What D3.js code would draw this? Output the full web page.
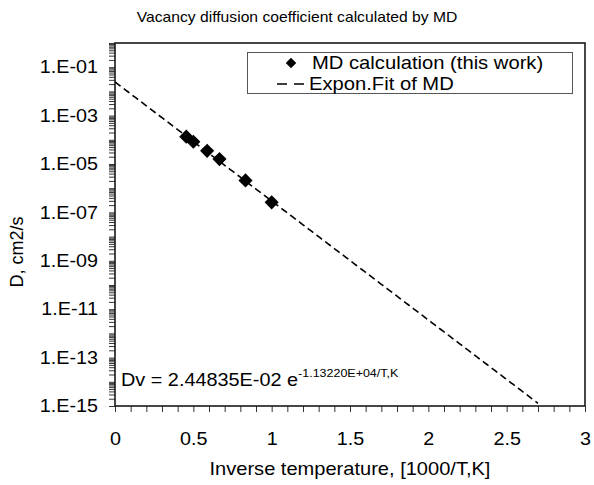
<!DOCTYPE html>
<html>
<head>
<meta charset="utf-8">
<script src="https://cdn.jsdelivr.net/npm/d3@7"></script>
<style>
  html, body { margin: 0; padding: 0; background: #fff; }
  svg { display: block; font-family: "Liberation Sans", Arial, sans-serif; }
</style>
</head>
<body>
<svg id="chart" width="594" height="485"></svg>
<script>
// Inverse temperature 1000/T and MD vacancy diffusion coefficients (cm2/s)
const inverseT = [0.455, 0.5, 0.588, 0.667, 0.833, 1.0];
const diffusionD = [1.35e-4, 8.3e-5, 3.5e-5, 1.6e-5, 2.1e-6, 2.6e-7];

// Exponential fit D = A * exp(-B / T), plotted against x = 1000/T
const fitA = 2.44835e-2;
const fitB = 1.13220e4;
const fitRange = [0, 2.7];

const xTicks = [0, 0.5, 1, 1.5, 2, 2.5, 3];
const yTickLabels = ["1.E-01", "1.E-03", "1.E-05", "1.E-07", "1.E-09", "1.E-11", "1.E-13", "1.E-15"];
const yTickValues = [1e-1, 1e-3, 1e-5, 1e-7, 1e-9, 1e-11, 1e-13, 1e-15];

const titleText = "Vacancy diffusion coefficient calculated by MD";
const xTitle = "Inverse temperature, [1000/T,K]";
const yTitle = "D, cm2/s";
const legendLabels = ["MD calculation (this work)", "Expon.Fit of MD"];
const equationMain = "Dv = 2.44835E-02 e";
const equationExp = "-1.13220E+04/T,K";

const svg = d3.select("#chart");
const plot = { left: 115, right: 585, top: 43, bottom: 406 };

const x = d3.scaleLinear().domain([0, 3]).range([plot.left, plot.right]);
const y = d3.scaleLog().domain([1e-15, 1]).range([plot.bottom, plot.top]);

// Text in this chart is set slightly wide: place at (px, py) and widen by sx
function widen(sel, px, py, sx) {
  sel.attr("x", px / sx).attr("y", py).attr("transform", `scale(${sx},1)`);
  return sel;
}

// Title
widen(svg.append("text"), 297, 22, 1.12)
  .attr("text-anchor", "middle")
  .attr("font-size", 14)
  .text(titleText);

// Clip region for the fit line
svg.append("clipPath").attr("id", "plotClip")
  .append("rect")
  .attr("x", plot.left).attr("y", plot.top)
  .attr("width", plot.right - plot.left).attr("height", plot.bottom - plot.top);

// X axis: major ticks every 0.5, minor every 0.1
const xMinor = d3.range(0, 3.0001, 0.1);
const xAxis = d3.axisBottom(x).tickValues(xMinor).tickSize(6)
  .tickFormat(d => {
    const r = Math.round(d * 10) / 10;
    return xTicks.some(t => Math.abs(t - r) < 1e-9) ? d3.format("")(r) : "";
  });
const gx = svg.append("g")
  .attr("transform", `translate(0,${plot.bottom})`)
  .call(xAxis);
gx.select(".domain").remove();
gx.selectAll(".tick line").attr("stroke", "#333").attr("stroke-width", 1);
gx.selectAll(".tick text")
  .attr("font-size", 17.5).attr("fill", "#000")
  .attr("font-family", "Liberation Sans, Arial, sans-serif")
  .attr("dy", "0.71em")
  .each(function () { widen(d3.select(this), 0, 27, 1.13); });

// Y axis: tick at every log minor step, labels every two decades
const yMinor = [];
for (let e = -15; e < 0; e++) {
  for (let k = 1; k < 10; k++) yMinor.push(k * Math.pow(10, e));
}
yMinor.push(1);
const yAxis = d3.axisLeft(y).tickValues(yMinor).tickSize(6).tickFormat(d => {
  const i = yTickValues.findIndex(v => Math.abs(Math.log10(v) - Math.log10(d)) < 1e-6);
  return i >= 0 ? yTickLabels[i] : "";
});
const gy = svg.append("g")
  .attr("transform", `translate(${plot.left},0)`)
  .call(yAxis);
gy.select(".domain").remove();
gy.selectAll(".tick line").attr("stroke", "#333").attr("stroke-width", 1);
gy.selectAll(".tick text")
  .attr("font-size", 17.5).attr("fill", "#000")
  .attr("font-family", "Liberation Sans, Arial, sans-serif")
  .each(function () { widen(d3.select(this), -17, 0, 1.13); });

// Plot frame
svg.append("rect")
  .attr("x", plot.left).attr("y", plot.top)
  .attr("width", plot.right - plot.left).attr("height", plot.bottom - plot.top)
  .attr("fill", "none").attr("stroke", "#1a1a1a").attr("stroke-width", 1.6);

// Fit line
const fitX = d3.range(fitRange[0], fitRange[1] + 1e-9, 0.01);
const line = d3.line().x(d => x(d)).y(d => y(fitA * Math.exp(-fitB * d / 1000)));
svg.append("path")
  .datum(fitX)
  .attr("clip-path", "url(#plotClip)")
  .attr("d", line)
  .attr("fill", "none").attr("stroke", "#000")
  .attr("stroke-width", 1.6).attr("stroke-dasharray", "7,4");

// MD data points (diamonds)
const diamond = d3.symbol().type(d3.symbolSquare).size(100);
svg.append("g").selectAll("path")
  .data(inverseT.map((t, i) => [t, diffusionD[i]]))
  .join("path")
  .attr("d", diamond)
  .attr("transform", d => `translate(${x(d[0])},${y(d[1])}) rotate(45)`)
  .attr("fill", "#000");

// Fit equation
const eq = widen(svg.append("text"), 121, 386, 1.135).attr("font-size", 17.5);
eq.append("tspan").text(equationMain);
eq.append("tspan").attr("font-size", 11).attr("dy", -9).text(equationExp);

// Legend
const lg = svg.append("g");
lg.append("rect")
  .attr("x", 247.5).attr("y", 52.5).attr("width", 325).attr("height", 41)
  .attr("fill", "#fff").attr("stroke", "#555").attr("stroke-width", 1);
lg.append("path")
  .attr("d", d3.symbol().type(d3.symbolSquare).size(55))
  .attr("transform", "translate(291,63) rotate(45)")
  .attr("fill", "#000");
widen(lg.append("text"), 312, 63, 1.155).attr("dy", "0.35em")
  .attr("font-size", 17.5).text(legendLabels[0]);
lg.append("line")
  .attr("x1", 277).attr("x2", 304).attr("y1", 84).attr("y2", 84)
  .attr("stroke", "#000").attr("stroke-width", 1.4).attr("stroke-dasharray", "10,7");
widen(lg.append("text"), 309, 84, 1.155).attr("dy", "0.35em")
  .attr("font-size", 17.5).text(legendLabels[1]);

// Axis titles
widen(svg.append("text"), 350, 475, 1.115)
  .attr("text-anchor", "middle").attr("font-size", 18)
  .text(xTitle);
svg.append("text")
  .attr("transform", "translate(23,252) rotate(-90)")
  .attr("text-anchor", "middle").attr("font-size", 18)
  .text(yTitle);
</script>
</body>
</html>
